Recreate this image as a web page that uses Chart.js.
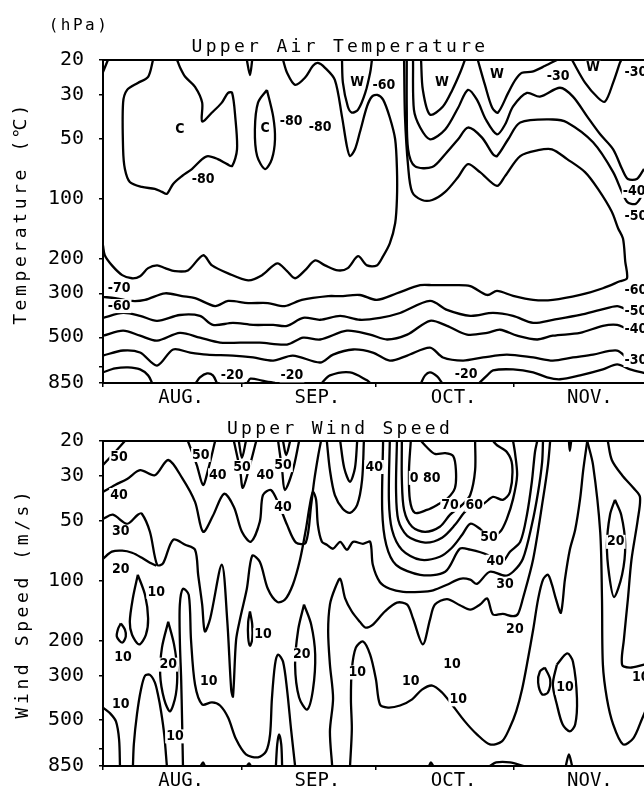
<!DOCTYPE html>
<html>
<head>
<meta charset="utf-8">
<script src="https://cdn.jsdelivr.net/npm/chart.js@4.4.1/dist/chart.umd.min.js"></script>
<style>
  html, body { margin: 0; padding: 0; background: #fff; overflow: hidden; }
  body { width: 644px; height: 794px; position: relative; }
  canvas { position: absolute; left: 0; }
  #temp { top: 0; }
  #wind { top: 410px; }
</style>
</head>
<body>
<canvas id="temp" width="680" height="410"></canvas>
<canvas id="wind" width="680" height="384"></canvas>
<script>
// x = days since 1 Aug, y = pressure (hPa)
const monthStarts = [0, 31, 61, 92];
const monthLabelDays = [17.5, 48, 78.5, 109];
const monthNames = ['AUG.', 'SEP.', 'OCT.', 'NOV.'];
const pressureTicks = [20, 30, 50, 100, 200, 300, 500, 700, 850];
const pressureLabels = ['20', '30', '50', '100', '200', '300', '500', '', '850'];

// ---- upper air temperature contours (deg C) ----
const t80corner = [[0,23],[1.1,20]];
const t80a = [[11.2,20],[10.1,24.3],[7.8,26.1],[5.4,28.3],[4.5,32.8],[4.5,56.4],[4.9,70.9],[6.0,82.4],[8.7,87.3],[11.6,89.3],[13.2,92.5],[14.3,94.6],[15.7,84.3],[17.7,76.9],[19.9,70.9],[22.2,63.2],[23.5,61.0],[25.7,63.2],[27.8,67.0],[28.9,68.5],[30.0,56.4],[29.6,38.6],[28.9,29.3],[28.0,29.3],[26.6,32.8],[24.4,36.8],[22.2,40.8],[22.2,32.8],[20.6,27.3],[18.4,24.3],[17.2,21.7],[16.6,20]];
const t80b = [[36.7,28.3],[38.1,38.6],[38.5,50.2],[37.8,63.2],[36.3,70.9],[34.5,61.0],[34.0,44.8],[34.7,32.8],[36.7,28.3]];
const t80c = [[32.2,20],[32.9,23.8],[33.4,20]];
const t70 = [[40.3,20],[41.2,23.2],[43.0,26.7],[45.2,24.6],[47.0,21.4],[48.1,20.7],[49.7,21.9],[51.9,25.2],[53.5,38.6],[54.6,54.5],[55.3,61.0],[56.4,56.4],[57.5,46.3],[59.1,34.3],[60.2,30.6],[61.4,30.0],[62.7,31.7],[64.2,39.0],[65.4,50.2],[65.8,70.9],[65.8,100],[65.4,133],[64.2,168],[62.7,195],[61.3,217],[59.1,217],[57.1,195],[54.8,224],[52.6,230],[49.7,217],[47.5,205],[45.2,230],[43.0,252],[41.2,232],[39.0,212],[35.6,243],[32.5,258],[28.0,238],[24.4,217],[22.4,193],[19.0,230],[16.1,232],[13.9,224],[12.1,217],[10.1,224],[8.3,246],[6.5,252],[4.3,243],[2.0,217],[0.4,193],[0,172]];
const t60a = [[53.5,20],[53.7,26.0],[54.8,34.3],[55.7,36.8],[57.1,35.6],[58.7,29.3],[59.8,23.2],[60.2,20]];
const t60b = [[67.4,20],[67.6,38.6],[68.3,68.6],[69.2,92.5],[71.4,101.6],[73.7,101.6],[76.6,92.5],[79.5,77.8],[81.7,67.0],[84.4,73.5],[88.2,86.3],[90.0,77.0],[93.4,61.0],[97.4,57.0],[100.5,56.4],[103.9,63.2],[107.9,73.5],[110.8,89.3],[113.9,116.4],[115.3,141],[116.4,159],[116.9,207],[117.3,252],[115.7,261],[111.9,283],[106.8,306],[100.7,324],[96.3,324],[91.8,309],[88.2,292],[86.0,306],[82.2,276],[78.4,273],[73.9,273],[71.0,273],[65.8,300],[61.3,324],[57.5,306],[53.1,310],[50.4,310],[44.5,324],[40.7,348],[36.9,336],[32.5,336],[28.0,328],[25.1,348],[20.6,317],[17.7,310],[13.9,300],[9.4,324],[6.5,328],[2.7,317],[0,313]];
const t50a = [[68.0,20],[68.0,35.6],[68.3,56.4],[69.8,68.6],[73.7,69.3],[76.6,59.7],[79.5,50.2],[81.7,43.8],[84.8,49.1],[87.3,59.7],[88.2,61.0],[90.7,50.2],[93.4,41.3],[100.7,39.9],[103.9,41.3],[109.7,52.0],[114.2,73.5],[117.3,103.7],[119.3,106],[121.1,92.5]];
const t40a = [[69.4,20],[69.6,35.6],[71.0,43.8],[73.2,50.2],[76.6,44.8],[79.5,34.8],[81.7,28.3],[83.7,31.7],[85.7,39.9],[88.2,47.4],[90.0,42.3],[91.8,34.3],[94.9,29.3],[97.8,30.6],[102.3,27.6],[105.2,30.6],[108.4,38.6],[111.3,47.4],[114.2,56.4],[116.2,70.9],[117.5,79.6],[119.5,79.6],[121.1,70.9]];
const t30a = [[71.2,20],[71.6,28.3],[73.2,37.7],[76.1,34.3],[78.2,28.3],[80.0,23.0],[81.0,20]];
const t30b = [[83.9,20],[85.5,26.7],[87.1,34.7],[88.4,36.8],[90.7,29.3],[92.3,25.2],[93.8,23.2],[96.1,22.9],[99.0,21.4],[101.6,20]];
const t30c = [[105.0,20],[107.9,26.0],[110.8,31.0],[112.4,32.4],[114.2,26.0],[115.7,20.7],[116.0,20]];
const t50b = [[0,399],[4.5,377],[8.3,390],[12.1,413],[17.2,386],[21.7,390],[24.6,433],[29.1,423],[33.6,433],[38.1,433],[41.2,438],[44.8,399],[48.6,408],[53.1,390],[57.5,408],[62.0,399],[66.5,377],[73.2,328],[77.0,364],[82.2,390],[87.3,377],[91.8,390],[96.3,423],[100.7,408],[106.8,386],[111.3,364],[115.1,348],[117.3,364],[119.5,386],[121.5,377]];
const t40b = [[0,491],[4.5,463],[8.3,491],[12.1,520],[17.2,475],[21.7,502],[26.2,532],[30.7,532],[35.1,532],[41.2,544],[44.8,502],[48.6,513],[54.6,463],[59.8,485],[63.6,513],[68.1,485],[73.2,413],[77.0,438],[81.5,485],[86.0,475],[88.9,458],[92.7,491],[97.2,513],[100.7,491],[106.8,475],[111.9,438],[115.1,433],[118.0,458],[121.5,448]];
const t30d = [[0,618],[4.5,583],[8.3,597],[12.1,694],[15.7,576],[19.5,597],[23.3,611],[29.1,618],[33.6,632],[38.1,655],[42.5,618],[48.6,670],[51.5,611],[56.0,576],[60.4,597],[64.2,655],[68.1,618],[73.2,564],[76.1,632],[80.6,655],[85.1,632],[90.4,611],[96.3,632],[100.7,655],[105.2,632],[109.7,611],[115.1,583],[118.0,655],[121.5,685]];
const t20a = [[0,751],[2.7,718],[5.6,709],[8.3,726],[10.1,778],[11.0,850]];
const t20b = [[20.8,850],[21.7,796],[23.3,760],[24.6,778],[25.5,850]];
const t20c = [[32.3,850],[33.0,808],[35.6,826],[38.5,850]];
const t20d = [[49.0,850],[50.8,778],[55.3,751],[59.1,824],[59.8,850]];
const t20e = [[71.2,850],[72.1,778],[73.2,751],[74.8,787],[75.9,850]];
const t20f = [[84.2,850],[86.0,778],[87.3,734],[91.8,726],[96.3,751],[99.4,796],[102.3,814],[106.8,778],[111.9,726],[115.1,685],[118.0,726],[121.5,760]];
const tempLines = [t80corner, t80a, t80b, t80c, t70, t60a, t60b, t50a, t40a, t30a, t30b, t30c, t50b, t40b, t30d, t20a, t20b, t20c, t20d, t20e, t20f];
const tempLabels = [['C',17.2,44.8],['C',36.3,44.3],['-80',42.1,40.8],['-80',48.6,43.8],['-80',22.4,79.6],['W',56.9,25.9],['-60',62.9,26.7],['W',75.9,25.9],['W',88.2,23.7],['-30',101.9,24.3],['W',109.7,21.9],['-30',119.3,23.2],['-40',118.9,91.4],['-50',119.3,123],['-60',119.3,289],['-50',119.3,368],['-40',119.3,458],['-30',119.3,651],['-70',3.6,283],['-60',3.6,348],['-20',28.9,778],['-20',42.3,778],['-20',81.3,768]];

// ---- upper wind speed contours (m/s) ----
const w50corner = [[0,26.4],[2.7,22.7],[4.9,20]];
const w40a = [[0,36.0],[2.7,33.2],[5.4,31.0],[8.3,28.0],[11.6,29.7],[14.6,24.9],[17.7,30.6],[20.6,40.4],[22.4,57.0],[24.6,47.4],[27.1,36.8],[29.3,42.8],[31.1,57.0],[33.1,64.0],[35.1,50.8],[35.8,37.3],[37.6,35.2],[39.4,41.8],[41.2,52.6],[43.2,64.6],[45.4,64.6],[46.6,41.8],[47.3,31.3],[48.2,23.5],[48.8,20]];
const w50v1 = [[19.0,20],[21.0,26.4],[22.4,33.2],[23.5,28.0],[25.1,20]];
const w50v2 = [[29.3,20],[30.7,28.0],[31.3,34.3],[32.9,26.4],[34.3,20]];
const w50v3 = [[39.2,20],[40.1,28.0],[40.7,35.2],[42.5,28.0],[43.9,20]];
const w60v2 = [[30.4,20],[31.1,24.3],[32.0,20]];
const w60v3 = [[40.3,20],[41.0,23.5],[41.9,20]];
const w40v = [[50.1,20],[50.8,28.0],[51.9,37.3],[53.7,43.8],[55.3,45.8],[56.9,41.8],[58.0,31.3],[58.4,20]];
const w50v = [[53.1,20],[54.0,27.3],[55.3,32.0],[56.4,27.3],[56.9,20]];
const w80 = [[68.9,20],[68.5,28.0],[68.7,39.4],[69.8,45.8],[72.5,44.3],[74.8,41.8],[77.2,38.6],[78.8,34.3],[79.0,28.0],[78.4,23.8],[76.6,23.0],[74.3,23.2],[72.5,21.5],[71.2,20]];
const w70 = [[66.9,20],[66.9,31.3],[67.4,44.3],[69.2,53.8],[72.1,57.0],[75.4,53.8],[77.7,46.8],[80.4,41.8],[82.2,37.3],[83.3,28.0],[83.3,20]];
const w60 = [[65.8,20],[65.6,35.2],[66.1,49.7],[68.1,59.7],[72.1,64.6],[75.9,61.0],[78.8,52.6],[81.0,45.3],[83.1,41.8],[85.1,41.3],[87.3,38.1],[89.5,39.4],[91.1,36.0],[91.6,26.4],[90.4,22.7],[88.2,21.0],[87.3,20]];
const w50 = [[64.2,20],[64.0,39.4],[64.7,55.7],[66.9,70.1],[71.0,78.7],[75.4,76.0],[78.1,68.5],[80.4,59.0],[82.2,52.0],[84.4,55.1],[86.4,61.0],[88.9,57.0],[90.4,49.1],[91.8,39.0],[92.7,29.7],[92.2,22.7],[91.8,20]];
const w40u = [[62.7,20],[62.5,44.3],[63.4,66.2],[65.6,83.4],[71.0,93.6],[76.6,90.4],[79.9,69.3],[82.2,70.1],[86.0,74.3],[87.8,80.5],[89.5,80.5],[91.1,71.8],[93.4,64.0],[94.9,46.8],[96.0,32.0],[96.7,22.7],[97.2,20]];
const w30 = [[0,49.1],[2.2,46.8],[5.4,52.0],[7.8,46.8],[8.7,46.3],[10.5,57.0],[12.1,83.4],[13.4,82.4],[15.7,62.5],[18.4,66.2],[20.6,70.1],[21.3,93.6],[22.2,132],[22.8,180],[24.0,155],[26.6,83.4],[27.8,157],[28.7,352],[29.1,381],[29.8,198],[30.7,155],[32.2,110],[33.4,75.1],[35.1,80.5],[36.9,110],[39.0,128],[40.7,125],[42.5,105],[44.1,78.7],[45.4,55.7],[46.3,41.8],[47.0,36.0],[47.7,39.4],[48.1,52.6],[49.0,64.0],[50.1,66.2],[51.5,69.3],[53.1,64.0],[54.6,70.1],[56.0,64.0],[58.2,65.5],[59.8,64.0],[60.4,83.4],[62.0,102],[64.2,110],[67.2,114],[71.0,114],[73.9,112],[77.0,105],[79.9,98],[82.2,99],[83.7,104],[86.6,90.4],[90.0,94.6],[91.8,90.4],[94.0,77.8],[96.0,52.6],[97.4,36.0],[98.3,25.5],[98.5,20]];
const w20left = [[0,77.8],[2.0,71.7],[4.3,70.9],[6.5,72.6],[8.7,76.9],[10.5,81.5],[11.9,84.3]];
const w20right = [[51.3,850],[50.8,570],[51.5,390],[50.8,264],[50.4,180],[50.8,132],[51.9,110],[53.1,98],[54.2,123],[55.7,143],[57.5,161],[58.7,172],[60.2,168],[63.1,143],[65.8,129],[68.1,132],[69.4,155],[71.6,209],[73.2,157],[74.3,132],[77.0,124],[79.9,133],[82.2,140],[84.4,132],[86.0,123],[87.3,148],[89.5,147],[91.8,151],[92.9,147],[94.0,123],[96.3,78],[98.5,39],[99.6,26.4],[100.1,20]];
const w20spindle = [[45.0,132],[46.6,166],[47.5,235],[47.0,352],[45.7,443],[43.9,386],[43.0,264],[43.7,176],[45.0,132]];
const w20loop = [[14.6,161],[15.9,209],[16.6,280],[16.3,373],[15.0,453],[13.7,394],[12.8,297],[13.2,217],[14.6,161]];
const w20ellipse = [[114.6,39.4],[116.0,46.8],[116.9,66.2],[116.2,93.6],[114.4,121],[113.3,93.6],[112.8,66.2],[113.5,46.8],[114.6,39.4]];
const w20east = [[113.0,20],[113.9,24.9],[116.2,29.7],[118.7,34.3],[120.2,38.1],[119.7,49.7],[118.3,78.7],[117.5,124],[116.6,198],[116.2,264],[118.0,273],[121.1,264],[122.5,261]];
const w10loopA = [[7.8,93.6],[9.4,118],[10.1,155],[9.6,187],[8.1,209],[6.5,187],[6.0,161],[6.7,122],[7.8,93.6]];
const w10loopB = [[4.0,164],[4.9,176],[5.1,191],[4.3,205],[3.1,191],[3.4,174],[4.0,164]];
const w10loopC = [[32.9,143],[33.4,166],[33.4,198],[32.9,212],[32.5,193],[32.5,161],[32.9,143]];
const w10edge = [[0,433],[1.6,463],[2.9,508],[3.6,626],[3.8,850]];
const w10hill = [[6.7,850],[6.9,662],[7.6,469],[8.5,352],[9.4,300],[10.5,297],[11.6,324],[12.3,373],[13.0,453],[13.7,590],[14.3,850]];
const w10arch = [[17.9,850],[17.7,497],[17.5,313],[17.2,198],[17.2,132],[17.9,110],[19.2,118],[19.7,198],[20.6,332],[22.2,418],[24.4,408],[26.2,423],[28.0,486],[29.8,625],[32.0,743],[34.7,769],[36.5,718],[37.4,590],[37.8,394],[38.5,264],[39.2,235],[40.3,255],[41.2,352],[42.1,557],[43.0,850]];
const w10bump = [[38.7,850],[39.0,662],[39.4,590],[39.9,662],[40.1,850]];
const w10long = [[108.4,20],[107.5,28.0],[106.8,39.0],[105.7,55.7],[104.5,70.1],[103.4,99],[102.5,145],[101.4,124],[100.5,105],[99.6,93.6],[98.5,99],[97.4,124],[96.3,176],[95.1,249],[93.8,352],[92.5,453],[91.1,544],[89.3,640],[86.6,662],[83.7,590],[81.0,508],[78.1,418],[75.9,364],[73.7,336],[71.4,352],[69.2,394],[66.5,423],[63.8,433],[62.0,418],[61.1,313],[59.8,235],[58.2,202],[56.6,217],[55.7,279],[55.5,394],[55.7,557],[55.3,850]];
const w10east = [[108.4,20],[109.7,26.4],[111.3,57.0],[111.7,123],[111.9,264],[112.8,390],[114.2,526],[116.4,662],[118.7,618],[120.7,491],[122.5,394]];
const w10loopD = [[101.6,264],[103.9,232],[105.2,255],[106.1,390],[105.7,527],[104.5,570],[102.9,527],[101.6,418],[100.7,332],[101.6,264]];
const w10loopE = [[98.9,273],[100.1,313],[99.6,364],[98.3,372],[97.4,324],[97.8,286],[98.9,273]];
const w10tick = [[104.3,20],[104.5,22.4],[104.8,20]];
const wBottom1 = [[21.9,850],[22.4,815],[22.8,850]];
const wBottom2 = [[32.2,850],[32.7,825],[33.1,850]];
const wBottom3 = [[73.0,850],[73.4,815],[73.9,850]];
const wBottom4 = [[86.6,850],[88.0,815],[91.1,815],[94.2,850]];
const wBottom5 = [[103.6,850],[104.3,743],[105.0,850]];
const windLines = [w50corner, w40a, w50v1, w50v2, w50v3, w60v2, w60v3, w40v, w50v, w80, w70, w60, w50, w40u, w30, w20left, w20right, w20spindle, w20loop, w20ellipse, w20east, w10loopA, w10loopB, w10loopC, w10edge, w10hill, w10arch, w10bump, w10long, w10east, w10loopD, w10loopE, w10tick, wBottom1, wBottom2, wBottom3, wBottom4, wBottom5];
const windLabels = [['50',3.6,24.1],['40',3.6,37.3],['30',4.0,57.0],['20',4.0,88.3],['10',11.9,114],['10',4.5,243],['10',4.0,418],['10',16.1,604],['20',14.6,264],['10',23.7,321],['10',35.8,187],['20',44.5,235],['10',56.9,289],['10',68.9,321],['10',78.1,264],['10',79.5,394],['10',103.4,344],['20',114.8,64.0],['10',120.4,306],['50',21.9,23.5],['40',25.7,29.7],['50',31.1,27.0],['40',36.3,29.7],['50',40.3,26.4],['40',40.3,42.8],['40',60.7,27.0],['0 80',72.1,30.6],['70',77.7,41.8],['60',83.1,41.8],['50',86.4,61.0],['40',87.8,80.5],['30',90.0,105],['20',92.2,176]];

const black = '#000';

function toPoints(arr) {
  return arr.map(p => ({x: p[0], y: p[1]}));
}

const panelText = {
  id: 'panelText',
  afterDraw(chart, args, o) {
    const ctx = chart.ctx;
    ctx.save();
    ctx.fillStyle = black;
    ctx.textAlign = 'center';
    ctx.textBaseline = 'alphabetic';
    ctx.font = '18px "DejaVu Sans Mono", monospace';
    ctx.letterSpacing = '3.3px';
    ctx.fillText(o.title, 340, o.titleY);
    if (o.unit) {
      ctx.font = '16px "DejaVu Sans Mono", monospace';
      ctx.letterSpacing = '2.5px';
      ctx.fillText(o.unit, 79, 30);
    }
    ctx.font = '18px "DejaVu Sans Mono", monospace';
    ctx.letterSpacing = '3.6px';
    ctx.translate(o.axisX, o.axisY);
    ctx.rotate(-Math.PI / 2);
    ctx.fillText(o.axisTitle, 0, 0);
    ctx.restore();
  }
};

const contourText = {
  id: 'contourText',
  afterDatasetsDraw(chart, args, o) {
    const {ctx, scales: {x, y}} = chart;
    ctx.save();
    ctx.font = 'bold 14px "Liberation Sans Narrow", "DejaVu Sans Condensed", "Liberation Sans", sans-serif';
    ctx.textAlign = 'center';
    ctx.textBaseline = 'middle';
    for (const [txt, d, p] of o.items) {
      const px = x.getPixelForValue(d);
      const py = y.getPixelForValue(p);
      const w = ctx.measureText(txt).width;
      ctx.fillStyle = '#fff';
      ctx.fillRect(px - w / 2 - 1, py - 7, w + 2, 14);
      ctx.fillStyle = black;
      ctx.fillText(txt, px, py);
    }
    ctx.restore();
  }
};

function makePanel(id, lines, labels, cfg) {
  const tickDays = [0, 17.5, 31, 48, 61, 78.5, 92, 109];
  return new Chart(document.getElementById(id), {
    type: 'scatter',
    data: {
      datasets: lines.map(l => ({
        data: toPoints(l),
        showLine: true,
        borderColor: black,
        borderWidth: 2.3,
        pointRadius: 0,
        tension: 0.3,
        fill: false
      }))
    },
    options: {
      responsive: false,
      animation: false,
      events: [],
      layout: {padding: {top: cfg.top, right: 32, left: 0, bottom: 0}},
      plugins: {
        legend: {display: false},
        tooltip: {enabled: false},
        panelText: cfg.text,
        contourText: {items: labels}
      },
      scales: {
        x: {
          type: 'linear', min: 0, max: 122,
          afterBuildTicks: s => { s.ticks = tickDays.map(v => ({value: v})); },
          afterFit: s => { s.height = cfg.xHeight; },
          ticks: {
            autoSkip: false, maxRotation: 0, color: black, padding: 0,
            font: {family: '"DejaVu Sans Mono", monospace', size: 19},
            callback: v => {
              const i = monthLabelDays.indexOf(v);
              return i >= 0 ? monthNames[i] : '';
            }
          },
          grid: {
            drawOnChartArea: false, tickLength: 4, lineWidth: 1.5,
            color: c => (c.tick && monthStarts.includes(c.tick.value)) ? black : 'rgba(0,0,0,0)'
          },
          border: {display: true, color: black, width: 2}
        },
        xTop: {
          type: 'linear', position: 'top', min: 0, max: 122,
          afterFit: s => { s.height = 0; },
          ticks: {display: false},
          grid: {display: false, drawTicks: false},
          border: {display: true, color: black, width: 2}
        },
        y: {
          type: 'logarithmic', reverse: true, min: 20, max: 850,
          afterBuildTicks: s => { s.ticks = pressureTicks.map(v => ({value: v})); },
          afterFit: s => { s.width = 103; },
          ticks: {
            autoSkip: false, color: black, padding: 15,
            font: {family: '"DejaVu Sans Mono", monospace', size: 20},
            callback: (v, i) => pressureLabels[i]
          },
          grid: {drawOnChartArea: false, tickLength: 4, lineWidth: 1.5, color: black},
          border: {display: true, color: black, width: 2}
        }
      }
    },
    plugins: [panelText, contourText]
  });
}

makePanel('temp', tempLines, tempLabels, {
  top: 60, xHeight: 25,
  text: {title: 'Upper Air Temperature', titleY: 52, unit: '(hPa)', axisTitle: 'Temperature (\u2103)', axisX: 26, axisY: 213}
});
makePanel('wind', windLines, windLabels, {
  top: 31, xHeight: 28,
  text: {title: 'Upper Wind Speed', titleY: 24, axisTitle: 'Wind Speed (m/s)', axisX: 28, axisY: 193}
});
</script>
</body>
</html>
